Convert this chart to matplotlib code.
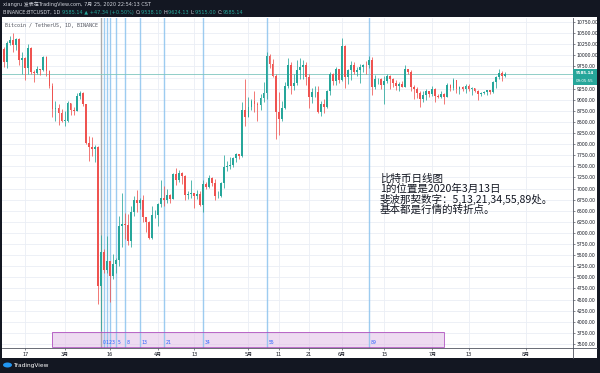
import numpy as np
import pandas as pd
import matplotlib
matplotlib.use('Agg')
import matplotlib.pyplot as plt
import matplotlib.dates as mdates
from matplotlib.patches import Rectangle, Ellipse

plt.rcParams['font.family'] = ['DejaVu Sans', 'Noto Sans CJK SC']

# BTCUSDT daily candles, 2020-02-09 .. 2020-07-25
dates = pd.date_range('2020-02-09', '2020-07-25', freq='D')

opens = [
    9895, 10151, 9851, 10269, 10348, 10230, 10363, 9899, 9936, 9706, 10164, 9620, 9595, 9697, 9665, 9961, 9655, 9316, 8785, 8823, 8693,
    8523, 8531, 8915, 8760, 8750, 9078, 9153, 8897, 8034, 7935, 7886, 7934, 4800, 5578, 5172, 5361, 5028, 5312, 5393, 6163, 6209, 6187, 5816, 6469, 6744, 6681, 6735, 6363, 6245, 5880, 6395,
    6410, 6642, 6795, 6737, 6856, 6772, 7330, 7197, 7361, 7283, 6858, 6888, 6903, 6838, 6868, 6621, 7096, 7035, 7238, 7124, 6827, 6841, 7125, 7482, 7505, 7538, 7693, 7774, 7738, 8778,
    8621, 8826, 8972, 8894, 8874, 9031, 9149, 9986, 9800, 9539, 8722, 8561, 8810, 9309, 9791, 9316, 9381, 9680, 9733, 9775, 9511, 9068, 9170, 9180, 8720, 8900, 8841, 9205, 9575, 9427, 9697,
    9448, 10200, 9519, 9666, 9789, 9621, 9666, 9746, 9782, 9772, 9885, 9280, 9465, 9474, 9342, 9426, 9525, 9465, 9386, 9310, 9358, 9294, 9686, 9625, 9296, 9249, 9162, 9012, 9117, 9190,
    9138, 9232, 9087, 9059, 9135, 9069, 9342, 9253, 9436, 9232, 9289, 9235, 9302, 9242, 9255, 9197, 9133, 9154, 9171, 9209, 9163, 9392, 9520, 9604, 9538.10,
]
highs = [
    10166, 10188, 10321, 10435, 10500, 10394, 10387, 10068, 9968, 10250, 10197, 9677, 9755, 9700, 9990, 9993, 9665, 9375, 8980, 8900, 8780,
    8750, 8975, 8920, 8845, 9145, 9200, 9185, 8900, 8180, 8150, 7970, 7966, 5955, 5640, 5940, 5365, 5525, 5436, 6389, 6900, 6456, 6416, 6600, 6835, 6957, 6790, 6857, 6370, 6275, 6599, 6525,
    6679, 7198, 7048, 6990, 6883, 7355, 7459, 7420, 7370, 7295, 6944, 7190, 6903, 6978, 6934, 7200, 7148, 7294, 7250, 7219, 6940, 7157, 7750, 7615, 7705, 7700, 7792, 7780, 8952, 9460,
    9059, 9011, 9191, 8950, 9118, 9395, 10067, 10035, 9914, 9574, 9168, 8978, 9398, 9939, 9845, 9588, 9888, 9950, 9897, 9842, 9578, 9270, 9307, 9298, 8979, 9017, 9225, 9625, 9605, 9740, 9700,
    10380, 10228, 9690, 9881, 9854, 9735, 9802, 9800, 9877, 9992, 9964, 9557, 9494, 9480, 9529, 9589, 9560, 9489, 9438, 9395, 9417, 9780, 9700, 9670, 9340, 9290, 9200, 9190, 9233, 9196,
    9300, 9270, 9125, 9190, 9145, 9375, 9360, 9480, 9440, 9317, 9300, 9343, 9345, 9279, 9265, 9215, 9185, 9200, 9225, 9219, 9430, 9540, 9684, 9637, 9624.13,
]
lows = [
    9850, 9730, 9705, 10242, 10085, 10125, 9780, 9570, 9450, 9585, 9590, 9400, 9570, 9560, 9650, 9540, 9275, 8620, 8530, 8430, 8500,
    8400, 8500, 8650, 8660, 8740, 9025, 8850, 8000, 7630, 7735, 7590, 4410, 3782, 5090, 5100, 4442, 4965, 5093, 5262, 5675, 5857, 5738, 5688, 6380, 6468, 6530, 6250, 6022, 5853, 5858, 6330,
    6150, 6575, 6604, 6673, 6678, 6771, 7079, 7150, 7111, 6753, 6760, 6784, 6555, 6770, 6605, 6468, 7000, 7019, 7051, 6751, 6780, 6818, 7020, 7389, 7431, 7480, 7606, 7657, 7710, 8401,
    8600, 8760, 8716, 8531, 8760, 8940, 9025, 9705, 9520, 8117, 8200, 8528, 8792, 9256, 9130, 9220, 9330, 9464, 9474, 9326, 8815, 8933, 9070, 8700, 8632, 8700, 8812, 9110, 9330, 9331, 9381,
    9421, 9266, 9365, 9450, 9581, 9531, 9372, 9633, 9570, 9704, 9113, 9232, 9351, 9245, 8910, 9373, 9232, 9280, 9215, 9196, 9281, 9277, 9570, 9204, 9010, 9037, 8833, 8940, 9000, 9068,
    9094, 8942, 9035, 9045, 8893, 9055, 9200, 9230, 9160, 9125, 9190, 9160, 9200, 9113, 9165, 9005, 9088, 9121, 9115, 9125, 9150, 9275, 9473, 9432, 9515.00,
]
closes = [
    10151, 9851, 10269, 10348, 10230, 10363, 9899, 9936, 9706, 10164, 9620, 9595, 9697, 9665, 9961, 9655, 9316, 8785, 8823, 8693, 8523,
    8531, 8915, 8760, 8750, 9078, 9153, 8897, 8034, 7935, 7886, 7934, 4800, 5578, 5172, 5361, 5028, 5312, 5393, 6163, 6209, 6187, 5816, 6469, 6744, 6681, 6735, 6363, 6245, 5880, 6395, 6410,
    6642, 6795, 6737, 6856, 6772, 7330, 7197, 7361, 7283, 6858, 6888, 6903, 6838, 6868, 6621, 7096, 7035, 7238, 7124, 6827, 6841, 7125, 7482, 7505, 7538, 7693, 7774, 7738, 8778, 8621,
    8826, 8972, 8894, 8874, 9031, 9149, 9986, 9800, 9539, 8722, 8561, 8810, 9309, 9791, 9316, 9381, 9680, 9733, 9775, 9511, 9068, 9170, 9180, 8720, 8900, 8841, 9205, 9575, 9427, 9697, 9448,
    10200, 9519, 9666, 9789, 9621, 9666, 9746, 9782, 9772, 9885, 9280, 9465, 9474, 9342, 9426, 9525, 9465, 9386, 9310, 9358, 9294, 9686, 9625, 9296, 9249, 9162, 9012, 9117, 9190, 9138,
    9232, 9087, 9059, 9135, 9069, 9342, 9253, 9436, 9232, 9289, 9235, 9302, 9242, 9255, 9197, 9133, 9154, 9171, 9209, 9163, 9392, 9520, 9604, 9538, 9585.14,
]

last_price = 9585.14
countdown = '09:05:55'

# fibonacci time zones, 0 placed on 2020-03-13
fib_start = pd.Timestamp('2020-03-13')
fib_steps = [0, 1, 2, 3, 5, 8, 13, 21, 34, 55, 89]

# time axis labels
tick_dates = ['2020-02-17', '2020-03-01', '2020-03-16', '2020-04-01', '2020-04-13', '2020-05-01', '2020-05-11',
              '2020-05-21', '2020-06-01', '2020-06-15', '2020-07-01', '2020-07-13', '2020-08-01']
tick_labels = ['17', '3月', '16', '4月', '13', '5月', '11', '21', '6月', '15', '7月', '13', '8月']

note_lines = ['比特币日线图', '1的位置是2020年3月13日', '斐波那契数字：5,13,21,34,55,89处。', '基本都是行情的转折点。']

UP = '#26a69a'
DOWN = '#ef5350'
DARK = '#131722'
LIGHT = '#d1d4dc'

W, H = 600, 373
fig = plt.figure(figsize=(6, 3.73), dpi=100, facecolor=DARK)
# white chart panel
fig.patches.append(Rectangle((2 / W, 1 - 358 / H), 595 / W, 341 / H, transform=fig.transFigure,
                             facecolor='white', edgecolor='none', zorder=-5))

ax = fig.add_axes([2 / W, 1 - 348 / H, 571 / W, 330 / H])
ax.set_facecolor('white')

x = mdates.date2num(dates)
o = np.array(opens)
h = np.array(highs)
l = np.array(lows)
c = np.array(closes)
col = np.where(c >= o, UP, DOWN)

ax.vlines(x, l, h, colors=col, lw=0.55, zorder=3)
body = np.maximum(np.abs(c - o), 12)
ax.bar(x, body, bottom=np.minimum(o, c), width=0.62, color=col, edgecolor='none', zorder=4)

x0 = mdates.date2num(pd.Timestamp('2020-02-01'))
ax.set_xlim(x0 + 8.26, x0 + 197.65)
ax.set_ylim(3410, 10840)

# grid and scales
yt = np.arange(3500, 10751, 250)
ax.set_yticks(yt)
ax.set_yticklabels(['%.2f' % v for v in yt])
ax.set_xticks(mdates.date2num(pd.to_datetime(tick_dates)))
ax.set_xticklabels(tick_labels)
ax.grid(True, color='#eaeef5', lw=0.6, zorder=0)
ax.set_axisbelow(True)

ax.yaxis.tick_right()
ax.tick_params(axis='y', labelsize=3.3, length=1.6, width=0.5, pad=1.2, colors='#50535e', labelcolor='#131722')
ax.tick_params(axis='x', labelsize=3.5, length=1.6, width=0.5, pad=1.5, colors='#50535e', labelcolor='#131722')
for s in ['top', 'left']:
    ax.spines[s].set_visible(False)
for s in ['right', 'bottom']:
    ax.spines[s].set_color('#50535e')
    ax.spines[s].set_linewidth(0.6)

# fib time zone lines
for n in fib_steps:
    d = mdates.date2num(fib_start + pd.Timedelta(days=n))
    ax.axvline(d, color='#9e9e9e' if n == 0 else '#8cc3ee', lw=1.0, alpha=0.85, zorder=2)
    ax.text(d + 0.6, 3530, str(n), color='#2962ff', fontsize=3.3, ha='left', va='center', zorder=6)

# rectangle drawing
r0 = mdates.date2num(pd.Timestamp('2020-02-26'))
r1 = mdates.date2num(pd.Timestamp('2020-07-05'))
ax.add_patch(Rectangle((r0, 3440), r1 - r0, 335, facecolor='#e1bee7', alpha=0.55,
                       edgecolor='none', zorder=1))
ax.add_patch(Rectangle((r0, 3440), r1 - r0, 335, facecolor='none', edgecolor='#ab47bc',
                       lw=0.7, alpha=0.8, zorder=5))

# last price line
ax.axhline(last_price, color='#7fc6bf', lw=0.6, zorder=2)

# price label on the scale
fig.patches.append(Rectangle((573 / W, 1 - 85 / H), 24 / W, 16 / H, transform=fig.transFigure,
                             facecolor=UP, edgecolor='none', zorder=5))
fig.text(585 / W, 1 - 73 / H, '%.2f' % last_price, color='white', fontsize=2.9, ha='center', va='center',
         fontweight='bold', zorder=6)
fig.text(585 / W, 1 - 81 / H, countdown, color='white', fontsize=2.9, ha='center', va='center', zorder=6)

# panel lines under the scales
fig.add_artist(plt.Line2D([573 / W, 573 / W], [1 - 358 / H, 1 - 348 / H], color='#50535e', lw=0.6))
fig.add_artist(plt.Line2D([573 / W, 597 / W], [1 - 348 / H, 1 - 348 / H], color='#50535e', lw=0.6))

# header
fig.text(3 / W, 1 - 4.5 / H, 'xiangru 发表在TradingView.com, 7月 25, 2020 22:54:13 CST', color=LIGHT,
         fontsize=3.6, ha='left', va='center')
prev = fig.text(3 / W, 1 - 14 / H, 'BINANCE:BTCUSDT, 1D ', color=LIGHT, fontsize=3.6, ha='left', va='baseline')
parts = [('9585.14 ▲ +47.34 (+0.50%) ', UP), ('O:', LIGHT), ('9538.10 ', UP), ('H:', LIGHT),
         ('9624.13 ', UP), ('L:', LIGHT), ('9515.00 ', UP), ('C:', LIGHT), ('9585.14', UP)]
for txt, cc in parts:
    prev = ax.annotate(txt, xy=(1, 0), xycoords=prev, va='bottom', ha='left', color=cc, fontsize=3.6,
                       annotation_clip=False)

ax.text(0.005, 0.978, 'Bitcoin / TetherUS, 1D, BINANCE', transform=ax.transAxes, color='#50535e',
        fontsize=3.6, ha='left', va='center', family='DejaVu Sans Mono')

# note
for i, line in enumerate(note_lines):
    fig.text(380 / W, 1 - (178.5 + 10.3 * i) / H, line, fontsize=7.6, color='#131722', ha='left', va='center',
             family=['Noto Sans CJK SC', 'DejaVu Sans'], zorder=7)

# footer logo
fig.patches.append(Ellipse((7.5 / W, 1 - 365 / H), 9 / W, 5 / H, transform=fig.transFigure,
                           facecolor='#2196f3', edgecolor='none'))
fig.text(13 / W, 1 - 365 / H, 'TradingView', color='white', fontsize=4.2, ha='left', va='center')

fig.savefig('out.png', dpi=100, facecolor=DARK)
